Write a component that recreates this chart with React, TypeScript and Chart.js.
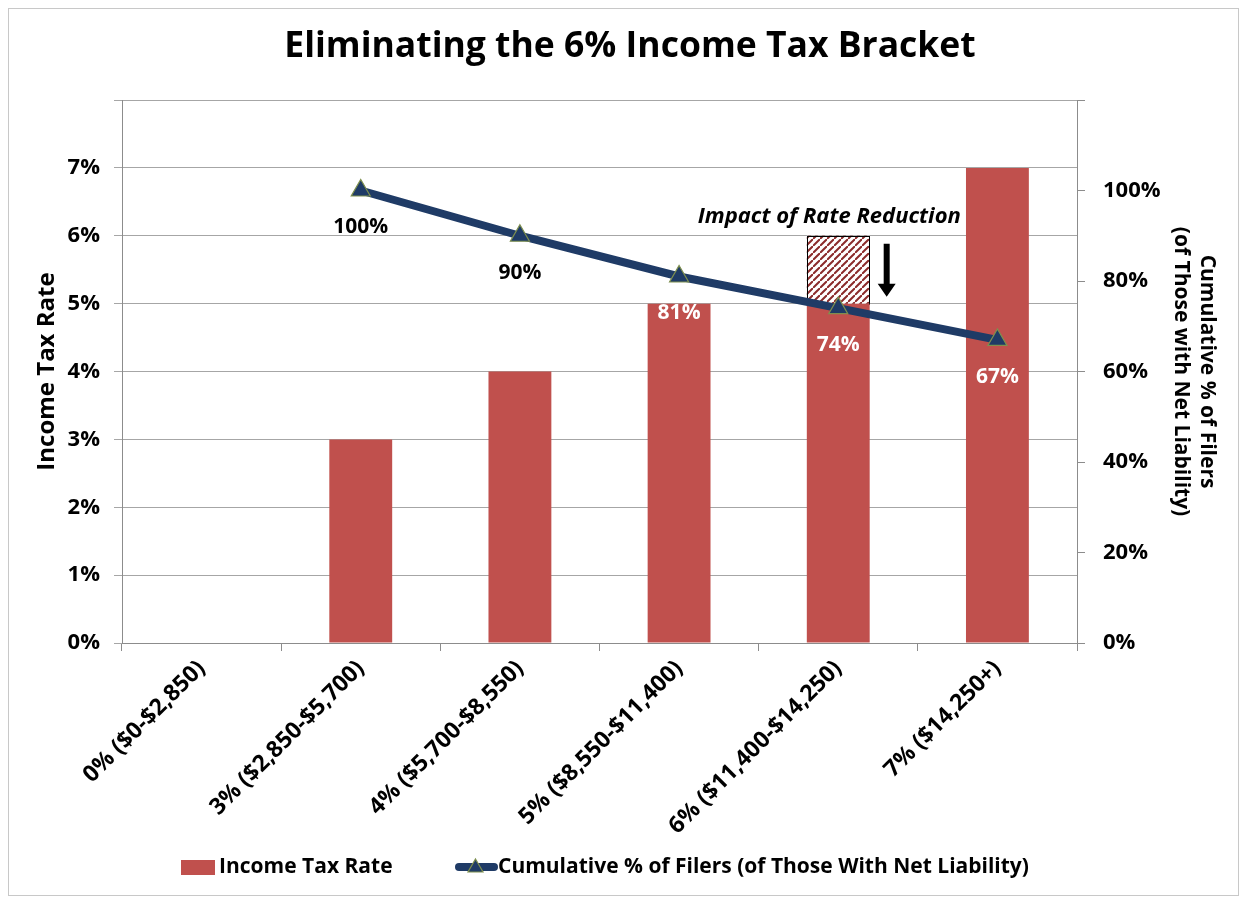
import { useEffect, useRef } from 'react';
import { Chart, registerables } from 'chart.js';

Chart.register(...registerables);

const categories = [
  '0% ($0-$2,850)',
  '3% ($2,850-$5,700)',
  '4% ($5,700-$8,550)',
  '5% ($8,550-$11,400)',
  '6% ($11,400-$14,250)',
  '7% ($14,250+)',
];
const rateAfterCut = [0, 3, 4, 5, 5, 7];
const rateReduction = [0, 0, 0, 0, 1, 0];
const cumulativeFilers: (number | null)[] = [null, 100, 90, 81, 74, 67];
const cumulativeLabels = ['', '100%', '90%', '81%', '74%', '67%'];
const labelColors = ['#000000', '#000000', '#000000', '#ffffff', '#ffffff', '#ffffff'];

const chartTitle = 'Eliminating the 6% Income Tax Bracket';
const leftAxisTitle = 'Income Tax Rate';
const rightAxisTitle = ['Cumulative % of Filers', '(of Those with Net Liability)'];
const legendLabels = ['Income Tax Rate', 'Cumulative % of Filers (of Those With Net Liability)'];
const annotationText = 'Impact of Rate Reduction';

const RED = '#C0504D';
const NAVY = '#1F3B66';
const FONT = "'Open Sans', sans-serif";
const W = 1231;
const H = 888;

function makeHatch(): CanvasPattern | string {
  const c = document.createElement('canvas');
  c.width = 7;
  c.height = 7;
  const g = c.getContext('2d');
  if (!g) return '#ffffff';
  g.fillStyle = '#ffffff';
  g.fillRect(0, 0, 7, 7);
  g.strokeStyle = '#8B2B2B';
  g.lineWidth = 2;
  g.beginPath();
  g.moveTo(-2, 9); g.lineTo(9, -2);
  g.moveTo(-6, 5); g.lineTo(5, -6);
  g.moveTo(2, 13); g.lineTo(13, 2);
  g.stroke();
  const p = g.createPattern(c, 'repeat');
  return p || '#ffffff';
}

export default function App() {
  const ref = useRef<HTMLCanvasElement | null>(null);

  useEffect(() => {
    const canvas = ref.current;
    if (!canvas) return;

    const decor = {
      id: 'decor',
      beforeDraw(chart: any) {
        const ctx = chart.ctx;
        ctx.save();
        ctx.fillStyle = '#ffffff';
        ctx.fillRect(0, 0, W, H);
        ctx.strokeStyle = '#c8c8c8';
        ctx.lineWidth = 1;
        ctx.strokeRect(0.5, 0.5, W - 1, H - 1);
        ctx.restore();
      },
      afterDatasetDraw(chart: any, args: any) {
        if (args.index !== 1) return;
        const ctx = chart.ctx;
        const idx = rateReduction.findIndex((v) => v > 0);
        if (idx < 0) return;
        const el: any = chart.getDatasetMeta(1).data[idx];
        ctx.save();
        ctx.strokeStyle = '#000000';
        ctx.lineWidth = 1;
        ctx.strokeRect(
          Math.round(el.x - el.width / 2) + 0.5,
          Math.round(el.y) + 0.5,
          Math.round(el.width) - 1,
          Math.round(el.base - el.y)
        );
        ctx.restore();
      },
      afterDatasetsDraw(chart: any) {
        const ctx = chart.ctx;
        const area = chart.chartArea;
        ctx.save();
        // point labels
        const lineMeta = chart.getDatasetMeta(2);
        ctx.font = `bold 21px ${FONT}`;
        ctx.textAlign = 'center';
        ctx.textBaseline = 'middle';
        lineMeta.data.forEach((pt: any, i: number) => {
          if (cumulativeFilers[i] == null) return;
          ctx.fillStyle = labelColors[i];
          ctx.fillText(cumulativeLabels[i], pt.x, pt.y + 37);
        });

        // annotation on reduced bar
        const redMeta = chart.getDatasetMeta(1);
        const idx = rateReduction.findIndex((v) => v > 0);
        if (idx >= 0) {
          const el: any = redMeta.data[idx];
          const ax = el.x + el.width / 2 + 17;
          const top = el.y + 8;
          ctx.fillStyle = '#000000';
          ctx.beginPath();
          ctx.moveTo(ax - 3, top);
          ctx.lineTo(ax + 3, top);
          ctx.lineTo(ax + 3, top + 40);
          ctx.lineTo(ax + 9, top + 40);
          ctx.lineTo(ax, top + 53);
          ctx.lineTo(ax - 9, top + 40);
          ctx.lineTo(ax - 3, top + 40);
          ctx.closePath();
          ctx.fill();
          ctx.font = `italic bold 22px ${FONT}`;
          ctx.textAlign = 'center';
          ctx.textBaseline = 'middle';
          ctx.fillText(annotationText, el.x - 9, el.y - 19);
        }

        // title
        ctx.fillStyle = '#000000';
        ctx.font = `bold 35.5px ${FONT}`;
        ctx.textAlign = 'center';
        ctx.textBaseline = 'middle';
        ctx.fillText(chartTitle, 622, 39);

        // axis titles
        const midY = (area.top + area.bottom) / 2;
        ctx.font = `bold 24px ${FONT}`;
        ctx.save();
        ctx.translate(39, midY);
        ctx.rotate(-Math.PI / 2);
        ctx.fillText(leftAxisTitle, 0, 0);
        ctx.restore();
        ctx.font = `bold 21px ${FONT}`;
        ctx.save();
        ctx.translate(1199, midY);
        ctx.rotate(Math.PI / 2);
        ctx.fillText(rightAxisTitle[0], 0, 0);
        ctx.fillText(rightAxisTitle[1], 0, 26);
        ctx.restore();

        // legend
        ctx.font = `bold 21px ${FONT}`;
        ctx.textAlign = 'left';
        ctx.fillStyle = RED;
        ctx.fillRect(173, 852, 34, 15);
        ctx.fillStyle = '#000000';
        ctx.fillText(legendLabels[0], 211, 859);
        ctx.strokeStyle = NAVY;
        ctx.lineWidth = 8;
        ctx.lineCap = 'round';
        ctx.beginPath();
        ctx.moveTo(451, 859);
        ctx.lineTo(486, 859);
        ctx.stroke();
        ctx.fillStyle = NAVY;
        ctx.strokeStyle = '#7E8F4E';
        ctx.lineWidth = 1.2;
        ctx.beginPath();
        ctx.moveTo(467.5, 851);
        ctx.lineTo(475, 864);
        ctx.lineTo(460, 864);
        ctx.closePath();
        ctx.fill();
        ctx.stroke();
        ctx.fillStyle = '#000000';
        ctx.fillText(legendLabels[1], 490, 859);
        ctx.restore();
      },
    };

    const chart = new Chart(canvas, {
      type: 'bar',
      data: {
        labels: categories,
        datasets: [
          {
            type: 'bar',
            label: legendLabels[0],
            data: rateAfterCut,
            backgroundColor: RED,
            yAxisID: 'y',
            stack: 'rate',
            order: 1,
            barPercentage: 0.395,
            categoryPercentage: 1,
          },
          {
            type: 'bar',
            label: 'Reduction',
            data: rateReduction,
            backgroundColor: makeHatch() as any,
            borderWidth: 0,
            yAxisID: 'y',
            stack: 'rate',
            order: 2,
            barPercentage: 0.395,
            categoryPercentage: 1,
          },
          {
            type: 'line',
            label: legendLabels[1],
            data: cumulativeFilers,
            yAxisID: 'y1',
            borderColor: NAVY,
            borderWidth: 8,
            backgroundColor: NAVY,
            pointStyle: 'triangle',
            pointRadius: 11,
            pointBackgroundColor: NAVY,
            pointBorderColor: '#7E8F4E',
            pointBorderWidth: 1.2,
            tension: 0,
            order: 0,
          } as any,
        ],
      },
      options: {
        responsive: false,
        animation: false,
        devicePixelRatio: 1,
        layout: { padding: { top: 92, left: 0, right: 0, bottom: 0 } },
        plugins: {
          legend: { display: false },
          title: { display: false },
          tooltip: { enabled: false },
        },
        scales: {
          x: {
            stacked: true,
            offset: true,
            grid: {
              offset: true,
              drawOnChartArea: false,
              drawTicks: true,
              tickLength: 8,
              color: '#8c8c8c',
            },
            border: { color: '#8c8c8c' },
            ticks: {
              color: '#000000',
              font: { family: FONT, size: 23, weight: 'bold' },
              maxRotation: 45,
              minRotation: 45,
              autoSkip: false,
              padding: 4,
            },
            afterFit(s: any) {
              s.height = 253;
            },
          },
          y: {
            position: 'left',
            stacked: true,
            min: 0,
            max: 8,
            ticks: {
              stepSize: 1,
              color: '#000000',
              font: { family: FONT, size: 22, weight: 'bold' },
              padding: 14,
              callback: (v: any) => (Number(v) >= 8 ? '' : `${v}%`),
            },
            grid: { color: '#a6a6a6', tickLength: 8, drawTicks: true },
            border: { color: '#8c8c8c' },
            afterFit(s: any) {
              s.width = 114;
            },
          },
          y1: {
            position: 'right',
            min: 0,
            max: 120,
            ticks: {
              stepSize: 20,
              color: '#000000',
              font: { family: FONT, size: 22, weight: 'bold' },
              padding: 18,
              callback: (v: any) => (Number(v) >= 120 ? '' : `${v}%`),
            },
            grid: { drawOnChartArea: false, tickLength: 8, color: '#8c8c8c' },
            border: { color: '#8c8c8c' },
            afterFit(s: any) {
              s.width = 162;
            },
          },
        },
      } as any,
      plugins: [decor],
    });

    return () => chart.destroy();
  }, []);

  return (
    <canvas
      ref={ref}
      width={W}
      height={H}
      style={{ display: 'block', width: W, height: H }}
    />
  );
}
